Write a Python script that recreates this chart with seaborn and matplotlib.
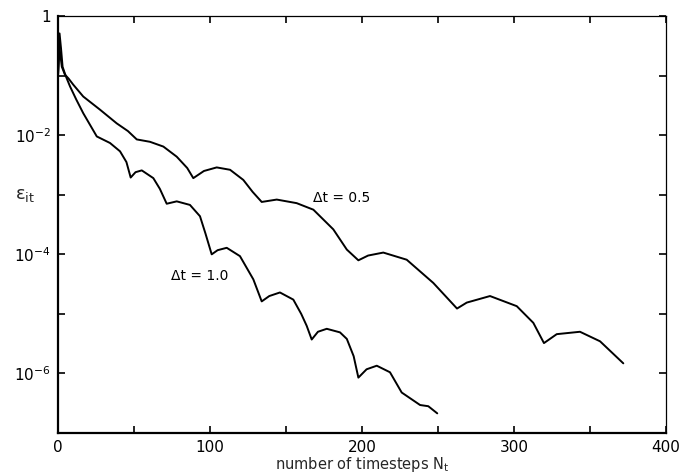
import matplotlib
matplotlib.use("Agg")
import matplotlib.pyplot as plt
import pandas as pd
import seaborn as sns
import numpy as np

# Timesteps and log10 of the iteration error
steps_dt05 = [0, 1, 2.5, 4.5, 7, 10, 16.6, 27.6, 38.6, 46, 51.8, 60.5, 69.3, 78.1,
              85, 89, 96, 104.4, 113.2, 121.9, 128, 134, 143.9, 157, 168, 181.1,
              190, 197.6, 204, 214, 229.4, 246.9, 262.5, 268.9, 284.2, 301.8,
              312.7, 319.7, 328.1, 343.4, 356.6, 371.9]
log_eps_dt05 = [-1.0, -0.54, -0.85, -0.98, -1.05, -1.15, -1.35, -1.57, -1.80, -1.93,
                -2.07, -2.11, -2.19, -2.36, -2.55, -2.72, -2.60, -2.54, -2.58, -2.75,
                -2.95, -3.12, -3.08, -3.14, -3.25, -3.58, -3.92, -4.10, -4.02, -3.97,
                -4.09, -4.48, -4.91, -4.81, -4.70, -4.87, -5.15, -5.49, -5.34, -5.30,
                -5.46, -5.83]

steps_dt10 = [0, 1, 2, 3, 5, 7.9, 12, 16.6, 25.5, 34.2, 40.8, 45, 47.8, 51, 55.1,
              62.7, 67, 71.5, 78.1, 86.8, 93.4, 97, 101.1, 105, 111, 119.7, 128.5,
              134, 139, 146, 154.8, 160, 163.6, 166.9, 171, 176.8, 185.5, 190,
              194.5, 197.6, 203, 209.7, 218.4, 226.1, 238.2, 243.6, 249.5]
log_eps_dt10 = [-1.0, -0.29, -0.55, -0.85, -1.0, -1.18, -1.40, -1.63, -2.02, -2.13,
                -2.27, -2.45, -2.71, -2.62, -2.59, -2.72, -2.90, -3.15, -3.11, -3.17,
                -3.36, -3.65, -4.00, -3.93, -3.89, -4.03, -4.42, -4.79, -4.70, -4.64,
                -4.76, -5.00, -5.20, -5.43, -5.30, -5.25, -5.31, -5.42, -5.71, -6.07,
                -5.93, -5.87, -5.98, -6.32, -6.53, -6.55, -6.67]

series_labels = ["Δt = 0.5", "Δt = 1.0"]
ytick_values = [1e-7, 1e-6, 1e-5, 1e-4, 1e-3, 1e-2, 1e-1, 1]
ytick_labels = ["", "$10^{-6}$", "", "$10^{-4}$", "", "$10^{-2}$", "", "1"]
xtick_values = [0, 50, 100, 150, 200, 250, 300, 350, 400]
xtick_labels = ["0", "", "100", "", "200", "", "300", "", "400"]

df = pd.concat([
    pd.DataFrame({"N": steps_dt05, "eps": 10.0 ** np.array(log_eps_dt05),
                  "case": series_labels[0]}),
    pd.DataFrame({"N": steps_dt10, "eps": 10.0 ** np.array(log_eps_dt10),
                  "case": series_labels[1]}),
])

sns.set_style("ticks", {"axes.edgecolor": "black", "text.color": "black",
                        "xtick.color": "black", "ytick.color": "black"})
plt.rcParams["font.family"] = ["DejaVu Sans"]

fig = plt.figure(figsize=(6.81, 4.75), dpi=100)
ax = fig.add_axes([0.0852, 0.0884, 0.8928, 0.8776])

sns.lineplot(data=df, x="N", y="eps", hue="case", units="case", estimator=None,
             palette=["black", "black"], linewidth=1.4, legend=False, ax=ax,
             sort=False)

ax.set_yscale("log")
ax.set_xlim(0, 400)
ax.set_ylim(1e-7, 1)
ax.set_yticks(ytick_values)
ax.set_yticklabels(ytick_labels)
ax.yaxis.set_minor_locator(matplotlib.ticker.NullLocator())
ax.set_xticks(xtick_values)
ax.set_xticklabels(xtick_labels)

ax.tick_params(direction="in", length=5, width=1.2, top=True, right=True,
               labelsize=11, pad=5)
for side in ["left", "bottom"]:
    ax.spines[side].set_linewidth(1.6)
for side in ["top", "right"]:
    ax.spines[side].set_linewidth(0.9)

ax.set_xlabel("number of timesteps $\\mathregular{N_t}$", fontsize=10.5, labelpad=0)
ax.set_ylabel("$\\mathregular{\\epsilon_{it}}$", fontsize=13, rotation=0,
              ha="center", va="center")
ax.yaxis.set_label_coords(-0.055, 0.571)

ax.text(168, 10 ** -3.05, "Δt = 0.5", fontsize=10, va="center", ha="left")
ax.text(74, 10 ** -4.37, "Δt = 1.0", fontsize=10, va="center", ha="left")

plt.savefig("out.png", dpi=100)
plt.close()
